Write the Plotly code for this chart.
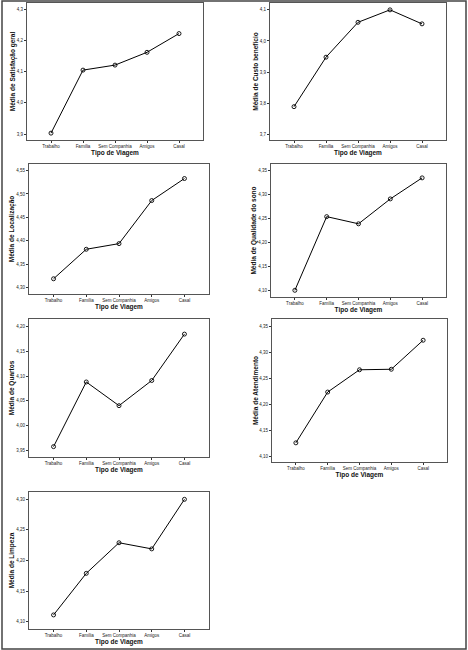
import plotly.graph_objects as go

W, H = 468, 650

categorias = ["Trabalho", "Família", "Sem Companhia", "Amigos", "Casal"]

titulos = [
    "Média de Satisfação geral",
    "Média de Custo benefício",
    "Média de Localização",
    "Média de Qualidade do sono",
    "Média de Quartos",
    "Média de Atendimento",
    "Média de Limpeza",
]

satisfacao_geral = [3.903, 4.105, 4.121, 4.162, 4.222]
custo_beneficio = [3.789, 3.948, 4.060, 4.100, 4.055]
localizacao = [4.319, 4.382, 4.394, 4.486, 4.533]
qualidade_sono = [4.100, 4.254, 4.239, 4.291, 4.335]
quartos = [3.957, 4.088, 4.040, 4.091, 4.185]
atendimento = [4.126, 4.224, 4.267, 4.268, 4.324]
limpeza = [4.111, 4.179, 4.229, 4.219, 4.300]

series = [satisfacao_geral, custo_beneficio, localizacao, qualidade_sono,
          quartos, atendimento, limpeza]

ticks_y = [
    [3.9, 4.0, 4.1, 4.2, 4.3],
    [3.7, 3.8, 3.9, 4.0, 4.1],
    [4.30, 4.35, 4.40, 4.45, 4.50, 4.55],
    [4.10, 4.15, 4.20, 4.25, 4.30, 4.35],
    [3.95, 4.00, 4.05, 4.10, 4.15, 4.20],
    [4.10, 4.15, 4.20, 4.25, 4.30, 4.35],
    [4.10, 4.15, 4.20, 4.25, 4.30],
]
formatos = [".1f", ".1f", ".2f", ".2f", ".2f", ".2f", ".2f"]
faixas_y = [
    [3.881, 4.320],
    [3.682, 4.122],
    [4.2865, 4.564],
    [4.086, 4.364],
    [3.936, 4.2156],
    [4.089, 4.365],
    [4.088, 4.312],
]

# frame boxes in pixels: (left, right, top, bottom)
caixas = [
    (27, 203, 3, 140),
    (270, 446, 3, 140),
    (29, 209, 164, 294),
    (271, 446, 164, 297),
    (29, 209, 319, 457),
    (272, 447, 319, 462),
    (29, 209, 492, 629),
]

fig = go.Figure()
FONT = "Liberation Sans, Arial, sans-serif"
frame_col = "#555555"

for i, (vals, tit) in enumerate(zip(series, titulos)):
    n = "" if i == 0 else str(i + 1)
    l, r, t, b = caixas[i]
    fig.add_trace(go.Scatter(
        x=categorias, y=vals, mode="lines+markers",
        line=dict(color="black", width=1),
        marker=dict(symbol="circle-open", size=4, color="black",
                    line=dict(width=0.9, color="black")),
        xaxis="x" + n, yaxis="y" + n, showlegend=False, hoverinfo="x+y"))
    fig.layout["xaxis" + n] = dict(
        domain=[l / W, r / W], anchor="y" + n,
        type="category", range=[-0.75, 4.75],
        showgrid=False, zeroline=False,
        showline=True, linecolor=frame_col, linewidth=1, mirror=True,
        ticks="outside", ticklen=2, tickcolor="#333", tickwidth=0.7,
        tickfont=dict(size=4.5, family=FONT, color="#222"),
        title=dict(text="<b>Tipo de Viagem</b>",
                   font=dict(size=6.5, family=FONT, color="#111"),
                   standoff=0),
    )
    fig.layout["yaxis" + n] = dict(
        domain=[1 - b / H, 1 - t / H], anchor="x" + n,
        range=faixas_y[i], tickvals=ticks_y[i], tickformat=formatos[i],
        showgrid=False, zeroline=False,
        showline=True, linecolor=frame_col, linewidth=1, mirror=True,
        ticks="outside", ticklen=2, tickcolor="#333", tickwidth=0.7,
        tickfont=dict(size=4.5, family=FONT, color="#222"),
        title=dict(text="<b>" + tit + "</b>",
                   font=dict(size=6.5, family=FONT, color="#111"),
                   standoff=0),
    )

fig.update_layout(
    width=W, height=H,
    margin=dict(l=0, r=0, t=0, b=0),
    paper_bgcolor="white", plot_bgcolor="white",
    separators=",.",
    shapes=[dict(type="rect", xref="paper", yref="paper",
                 x0=2 / W, x1=466 / W, y0=1 - 649 / H, y1=1 - 1 / H,
                 line=dict(color="#444444", width=1.5))],
)

fig.write_html(
    "out.html",
    config={"displayModeBar": False},
    post_script="document.body.style.margin='0';document.body.style.overflow='hidden';",
)
